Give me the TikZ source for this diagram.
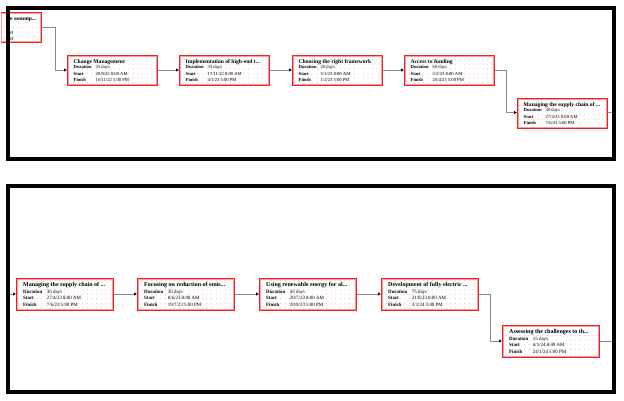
\documentclass[tikz,border=0pt]{standalone}
\usepackage{fontspec}
\setmainfont{Liberation Serif}
\usetikzlibrary{arrows.meta,patterns.meta}
\definecolor{boxred}{HTML}{F02020}
\definecolor{boxpink}{HTML}{F8A0A0}
\definecolor{dotpink}{HTML}{EE9C9C}
\definecolor{linkgray}{HTML}{8A8A8A}
\tikzset{
  panel/.style={draw=black, line width=4pt},
  taskbox/.style={draw=boxred, line width=1.5pt, inner sep=0pt, fill=white,
    postaction={pattern={Dots[distance=4.6pt, radius=0.42pt]}, pattern color=dotpink}},
  innerline/.style={draw=boxpink, line width=0.7pt},
  link/.style={draw=linkgray, line width=0.9pt,
    -{Latex[length=3pt,width=3.4pt,color=black]}},
  linkfree/.style={draw=linkgray, line width=0.9pt},
  ttl/.style={inner sep=0pt, anchor=base west, font=\bfseries\fontsize{\mytfs}{\mytfs}\selectfont},
  lbl/.style={inner sep=0pt, anchor=base west, font=\bfseries\fontsize{\mydfs}{\mydfs}\selectfont},
  val/.style={inner sep=0pt, anchor=base west, font=\fontsize{\mydfs}{\mydfs}\selectfont},
}
\newcommand\mytfs{5.6}
\newcommand\mydfs{4.6}
\newcommand\mysc{1}
% #1 name, #2 x, #3 y, #4 title, #5 duration, #6 start, #7 finish
\newcommand\task[7]{%
  \node[taskbox, minimum width=89*\mysc pt, minimum height=29*\mysc pt, anchor=north west] (#1) at (#2,#3) {};
  \draw[innerline] ([shift={(1.3,1.3)}]#1.north west) rectangle ([shift={(-1.3,-1.3)}]#1.south east);
  \node[ttl] (#1-t) at ([shift={(6.5*\mysc,8*\mysc)}]#1.north west) {#4};
  \node[lbl] (#1-dl) at ([shift={(6.5*\mysc,13.9*\mysc)}]#1.north west) {Duration};
  \node[val] (#1-dv) at ([shift={(28.5*\mysc,13.9*\mysc)}]#1.north west) {#5};
  \node[lbl] (#1-sl) at ([shift={(6.5*\mysc,20.2*\mysc)}]#1.north west) {Start};
  \node[val] (#1-sv) at ([shift={(28.5*\mysc,20.2*\mysc)}]#1.north west) {#6};
  \node[lbl] (#1-fl) at ([shift={(6.5*\mysc,26.4*\mysc)}]#1.north west) {Finish};
  \node[val] (#1-fv) at ([shift={(28.5*\mysc,26.4*\mysc)}]#1.north west) {#7};
}
\begin{document}
\begin{tikzpicture}[x=1pt,y=-1pt]
\useasboundingbox (0,0) rectangle (624,400);
\fill[white] (0,0) rectangle (624,400);

% ---------- panel 1 ----------
\node[taskbox, minimum width=40pt, minimum height=29pt, anchor=north east] (n0) at (42,12) {};
\draw[innerline] ([shift={(1.3,1.3)}]n0.north west) rectangle ([shift={(-1.3,-1.3)}]n0.south east);
\node[ttl, anchor=base east] (n0-t) at (36.5,20) {e assump...};
\node[val, anchor=base east] (n0-s) at (13.5,34.2) {M};
\node[val, anchor=base east] (n0-f) at (13.5,40.2) {M};

\task{a1}{67}{55}{Change Management}{35 days}{20/9/22 8:00 AM}{16/11/22 5:00 PM}
\task{a2}{179}{55}{Implementation of high-end t...}{35 days}{17/11/22 8:00 AM}{4/1/23 5:00 PM}
\task{a3}{292}{55}{Choosing the right framework}{20 days}{5/1/23 8:00 AM}{1/2/23 5:00 PM}
\task{a4}{404}{55}{Access to funding}{60 days}{2/2/23 8:00 AM}{26/4/23 5:00 PM}
\task{a5}{517}{98}{Managing the supply chain of ...}{30 days}{27/4/23 8:00 AM}{7/6/23 5:00 PM}

\coordinate (r1) at (613,112.5);
\draw[link] (n0.east |- 0,27) -| (55,70) -- (a1.west |- 0,70);
\draw[link] (a1.east |- 0,70) -- (a2.west |- 0,70);
\draw[link] (a2.east |- 0,70) -- (a3.west |- 0,70);
\draw[link] (a3.east |- 0,70) -- (a4.west |- 0,70);
\draw[link] (a4.east |- 0,70) -| (506,112.5) -- (a5.west |- 0,112.5);
\draw[linkfree] (a5.east |- 0,112.5) -- (r1);

% ---------- panel 2 ----------
\renewcommand\mysc{1.08}
\renewcommand\mytfs{6}
\renewcommand\mydfs{4.9}
\coordinate (l2) at (9,294);
\task{b1}{16}{278}{Managing the supply chain of ...}{30 days}{27/4/23 8:00 AM}{7/6/23 5:00 PM}
\task{b2}{137}{278}{Focusing on reduction of emis...}{30 days}{8/6/23 8:00 AM}{19/7/23 5:00 PM}
\task{b3}{259}{278}{Using renewable energy for al...}{45 days}{20/7/23 8:00 AM}{20/9/23 5:00 PM}
\task{b4}{381}{278}{Development of fully electric ...}{75 days}{21/9/23 8:00 AM}{3/1/24 5:00 PM}
\task{b5}{502}{325}{Assessing the challenges to th...}{15 days}{4/1/24 8:00 AM}{24/1/24 5:00 PM}

\coordinate (r2) at (613,341);
\draw[link] (l2) -- (b1.west |- 0,294);
\draw[link] (b1.east |- 0,294) -- (b2.west |- 0,294);
\draw[link] (b2.east |- 0,294) -- (b3.west |- 0,294);
\draw[link] (b3.east |- 0,294) -- (b4.west |- 0,294);
\draw[link] (b4.east |- 0,294) -| (490,341) -- (b5.west |- 0,341);
\draw[linkfree] (b5.east |- 0,341) -- (r2);

% ---------- panel frames ----------
\draw[panel] (8,8) rectangle (613.5,159);
\draw[panel] (8,186) rectangle (613.5,391.5);
\end{tikzpicture}
\end{document}
